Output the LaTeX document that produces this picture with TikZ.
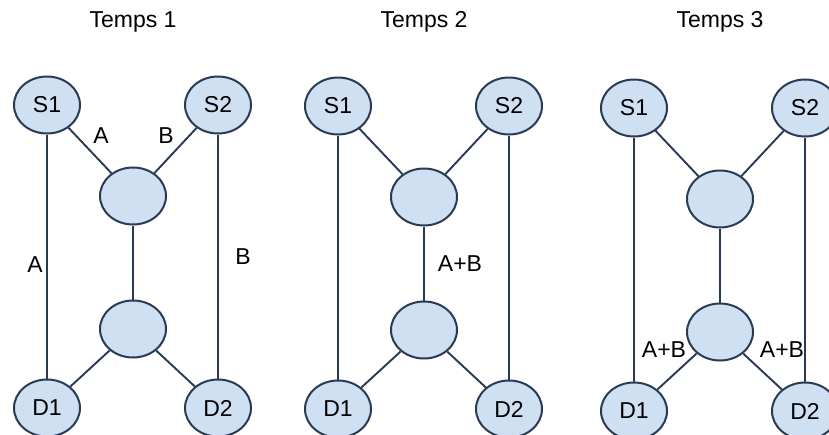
\documentclass[tikz,border=0pt]{standalone}
\usepackage{fontspec}
\setmainfont{Liberation Sans}
\usetikzlibrary{shapes.geometric}
\definecolor{nodefill}{RGB}{207,224,242}
\definecolor{nodeline}{RGB}{40,58,84}
\tikzset{
relay/.style={shape=ellipse, minimum width=66pt, minimum height=57pt, inner sep=0, draw=nodeline, fill=nodefill, line width=2pt, font=\fontsize{23}{26}\selectfont},
link/.style={draw=nodeline, line width=1.9pt},
lbl/.style={font=\fontsize{23}{26}\selectfont, inner sep=0}}
\begin{document}
\begin{tikzpicture}[x=1pt, y=-1pt]
\useasboundingbox (0,0) rectangle (829,434);
\foreach \dx/\dy [count=\i] in {0/0, 291/1, 587/3}{
      \node [lbl, anchor=base] at (\dx+133, 27) (t-\i) {Temps \i};
      \node [relay] at (\dx+47, 105+\dy) (s1-\i) {S1};
      \node [relay] at (\dx+218, 105+\dy) (s2-\i) {S2};
      \node [relay] at (\dx+133, 196+\dy) (up-\i) {};
      \node [relay] at (\dx+133, 329+\dy) (dn-\i) {};
      \node [relay] at (\dx+47, 408+\dy) (d1-\i) {D1};
      \node [relay] at (\dx+218, 408+\dy) (d2-\i) {D2};
      \draw [link] (s1-\i) -- (up-\i);
      \draw [link] (s2-\i) -- (up-\i);
      \draw [link] (up-\i) -- (dn-\i);
      \draw [link] (dn-\i) -- (d1-\i);
      \draw [link] (dn-\i) -- (d2-\i);
      \draw [link] (s1-\i) -- (d1-\i);
      \draw [link] (s2-\i) -- (d2-\i);
}
% Temps 1
\node [lbl] at (101, 136) (la-1) {A};
\node [lbl] at (166, 136) (lb-1) {B};
\node [lbl] at (35, 265) (lla-1) {A};
\node [lbl] at (243, 257) (llb-1) {B};
% Temps 2
\node [lbl] at (460, 264) (lab-2) {A+B};
% Temps 3
\node [lbl] at (664, 350) (lab-3) {A+B};
\node [lbl] at (782, 350) (rab-3) {A+B};
\end{tikzpicture}
\end{document}
